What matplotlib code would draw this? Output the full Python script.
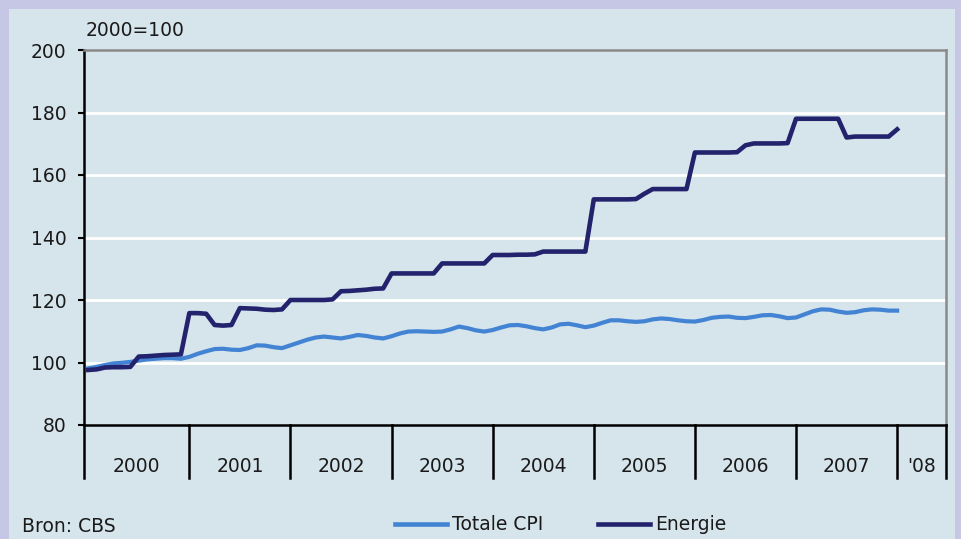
import matplotlib
matplotlib.use("Agg")
import matplotlib.pyplot as plt
from matplotlib.patches import Rectangle
from matplotlib.lines import Line2D
import matplotlib.transforms as mtransforms

# ---------------- data (monthly, Jan 2000 .. Jan 2008) ----------------
years = ["2000", "2001", "2002", "2003", "2004", "2005", "2006", "2007", "'08"]

energie = [
    97.6, 97.8, 98.4, 98.5, 98.5, 98.6, 101.9, 102.0, 102.2, 102.4, 102.5, 102.6,
    115.8, 115.8, 115.6, 112.0, 111.8, 112.0, 117.4, 117.3, 117.2, 116.9, 116.8, 117.0,
    120.0, 120.0, 120.0, 120.0, 120.0, 120.2, 122.8, 122.9, 123.1, 123.3, 123.6, 123.7,
    128.5, 128.5, 128.5, 128.5, 128.5, 128.5, 131.7, 131.7, 131.7, 131.7, 131.7, 131.7,
    134.4, 134.4, 134.4, 134.5, 134.5, 134.6, 135.5, 135.5, 135.5, 135.5, 135.5, 135.5,
    152.2, 152.2, 152.2, 152.2, 152.2, 152.3, 154.0, 155.5, 155.5, 155.5, 155.5, 155.5,
    167.2, 167.2, 167.2, 167.2, 167.2, 167.3, 169.5, 170.1, 170.1, 170.1, 170.1, 170.2,
    178.0, 178.0, 178.0, 178.0, 178.0, 178.0, 172.0, 172.3, 172.3, 172.3, 172.3, 172.3,
    174.6,
]

totale_cpi = [
    98.1, 98.6, 99.2, 99.7, 99.9, 100.2, 100.6, 101.0, 101.2, 101.4, 101.4, 101.2,
    101.8, 102.8, 103.6, 104.3, 104.4, 104.1, 104.0, 104.6, 105.5, 105.4, 104.9, 104.6,
    105.5, 106.4, 107.3, 108.0, 108.3, 108.0, 107.7, 108.2, 108.8, 108.5, 108.0, 107.7,
    108.4, 109.3, 109.9, 110.0, 109.9, 109.8, 109.9, 110.6, 111.5, 111.0, 110.3, 109.9,
    110.4, 111.2, 111.9, 112.0, 111.6, 111.0, 110.6, 111.2, 112.2, 112.4, 111.9, 111.3,
    111.8, 112.7, 113.5, 113.5, 113.2, 113.0, 113.2, 113.8, 114.1, 113.9, 113.5, 113.2,
    113.1, 113.6, 114.3, 114.6, 114.7, 114.3, 114.2, 114.6, 115.1, 115.2, 114.8, 114.2,
    114.4, 115.4, 116.4, 117.0, 116.9, 116.3, 115.9, 116.1, 116.7, 117.0, 116.9, 116.6,
    116.6,
]

yticks = [80, 100, 120, 140, 160, 180, 200]

# ---------------- styling ----------------
OUTER = "#c5c7e5"
PANEL = "#d6e4eb"
CPI_C = "#4283d3"
EN_C = "#23226d"
TXT = "#1a1a1a"

W, H = 961, 539
fig = plt.figure(figsize=(W / 100, H / 100), dpi=100)
fig.patch.set_facecolor(OUTER)
fig.patches.append(Rectangle((9 / W, 0), (955 - 9) / W, (H - 9) / H,
                             transform=fig.transFigure, facecolor=PANEL,
                             edgecolor="none", zorder=-10))

ax_l, ax_r, ax_t, ax_b = 84, 946, 50, 425
ax = fig.add_axes([ax_l / W, 1 - ax_b / H, (ax_r - ax_l) / W, (ax_b - ax_t) / H])
ax.set_facecolor(PANEL)

x = list(range(len(energie)))
ax.set_xlim(-0.5, 101.8)
ax.set_ylim(80, 200)

for v in yticks[1:-1]:
    ax.axhline(v, color="white", lw=2.0, zorder=1)

ax.plot(x, totale_cpi, color=CPI_C, lw=3.0, zorder=3, solid_joinstyle="round")
ax.plot(x, energie, color=EN_C, lw=3.3, zorder=4, solid_joinstyle="round")

ax.set_yticks(yticks)
ax.set_yticklabels([str(v) for v in yticks])
ax.tick_params(axis="y", direction="out", length=4.5, width=1.5, pad=8,
               labelsize=13.5, colors="black", labelcolor=TXT)
ax.set_xticks([])

for s in ["left", "bottom"]:
    ax.spines[s].set_color("black")
    ax.spines[s].set_linewidth(1.8)
for s in ["top", "right"]:
    ax.spines[s].set_color("#8a8a8a")
    ax.spines[s].set_linewidth(1.8)

# year separators below the axis
trans = mtransforms.blended_transform_factory(ax.transData, ax.transAxes)
sep_depth = -(478 - ax_b) / (ax_b - ax_t)
bounds = [-0.5] + [12 * k for k in range(1, 9)] + [101.8]
for b in bounds:
    ax.plot([b, b], [0, sep_depth], transform=trans, color="black", lw=1.8,
            clip_on=False, zorder=5)
label_y = -(466 - ax_b) / (ax_b - ax_t)
for i, yl in enumerate(years):
    xc = (bounds[i] + bounds[i + 1]) / 2
    ax.text(xc, label_y, yl, transform=trans, ha="center", va="center",
            fontsize=13.5, color=TXT)

# header and footer
fig.text(86 / W, 1 - 30 / H, "2000=100", ha="left", va="center", fontsize=13.5,
         color=TXT)
fig.text(22 / W, 1 - 526 / H, "Bron: CBS", ha="left", va="center", fontsize=13.5,
         color=TXT)

legend_items = [("Totale CPI", CPI_C, 395, 447), ("Energie", EN_C, 598, 650)]
ly = 1 - 524 / H
for name, col, x0, x1 in legend_items:
    fig.lines.append(Line2D([x0 / W, x1 / W], [ly, ly], transform=fig.transFigure,
                            color=col, lw=3.3))
    fig.text((x1 + 5) / W, ly, name, ha="left", va="center", fontsize=13.5,
             color=TXT)

fig.savefig("out.png", dpi=100, facecolor=fig.get_facecolor())
